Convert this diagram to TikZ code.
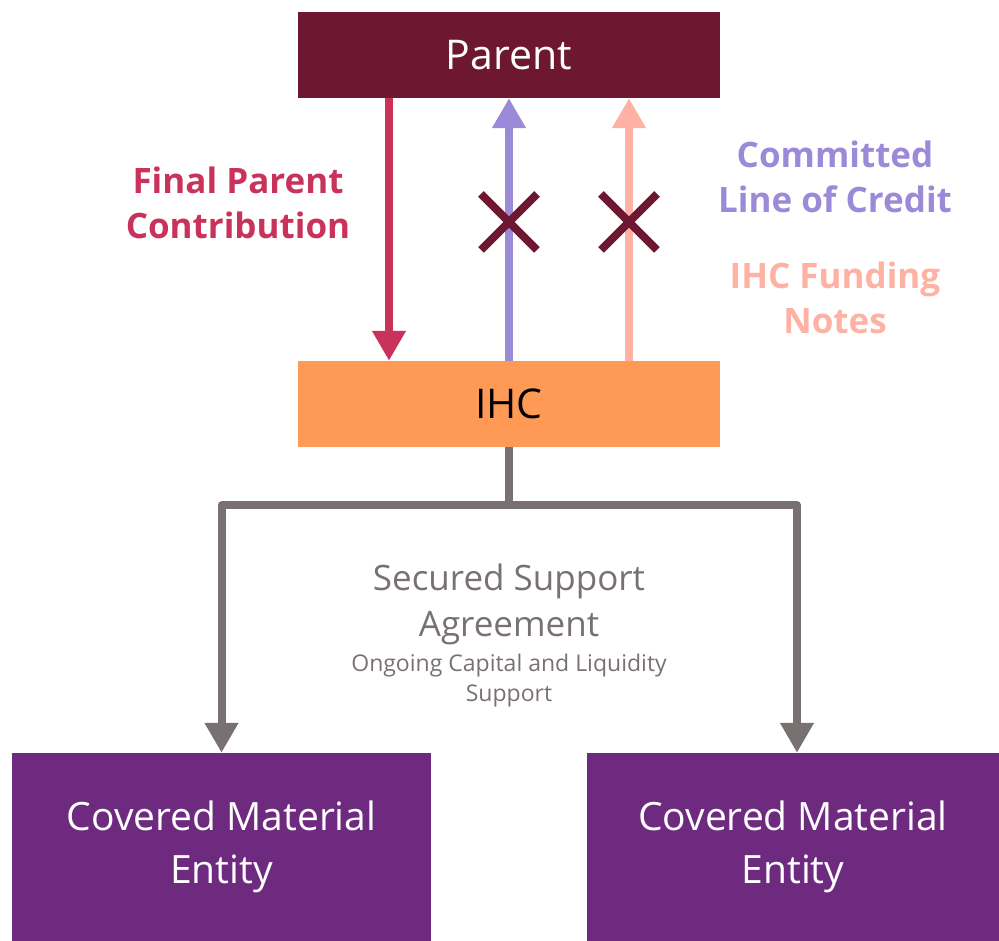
\documentclass[tikz,border=0pt]{standalone}
\usepackage{fontspec}
\setmainfont{Open Sans}
\usepackage{xcolor}
\usetikzlibrary{arrows.meta,shapes.misc}

\definecolor{parentred}{HTML}{6D1730}
\definecolor{ihcorange}{HTML}{FF9A56}
\definecolor{contribred}{HTML}{C9325A}
\definecolor{creditpurple}{HTML}{9B8AD8}
\definecolor{notespink}{HTML}{FFB1A3}
\definecolor{supportgray}{HTML}{797171}
\definecolor{cmepurple}{HTML}{6D2A7E}

\tikzset{
  box/.style={rectangle, inner sep=0pt, align=center},
  flow/.style={line width=8pt, -{Triangle[width=32pt,length=30pt]}},
  crossmark/.style={cross out, draw=parentred, line width=8pt, minimum size=48pt, inner sep=0pt},
  biglabel/.style={align=center, font=\fontsize{35}{45}\selectfont\bfseries}
}

\begin{document}
\begin{tikzpicture}[line cap=butt,line join=round,x=1pt,y=1pt]
\useasboundingbox (0,0) rectangle (999,941);

% boxes
\node[box, fill=parentred, text=white, minimum width=422pt, minimum height=86pt,
  font=\fontsize{41}{45}\selectfont] (parent) at (509,886) {Parent};
\node[box, fill=ihcorange, text=black, minimum width=422pt, minimum height=86pt,
  font=\fontsize{41}{45}\selectfont] (ihc) at (509,537) {IHC};
\node[box, fill=cmepurple, text=white, minimum width=419pt, minimum height=188pt,
  font=\fontsize{39}{53}\selectfont] (cme1) at (221.5,94) {Covered Material\\Entity};
\node[box, fill=cmepurple, text=white, minimum width=412pt, minimum height=188pt,
  font=\fontsize{39}{53}\selectfont] (cme2) at (793,94) {Covered Material\\Entity};

% parent / ihc flows
\draw[flow, contribred] ([xshift=-120pt]parent.south) -- ([xshift=-120pt]ihc.north);
\draw[flow, creditpurple] (ihc.north) -- (parent.south);
\draw[flow, notespink] ([xshift=120pt]ihc.north) -- ([xshift=120pt]parent.south);

\node[crossmark] (xcredit) at (509,719) {};
\node[crossmark] (xnotes) at (629,719) {};

\node[biglabel, text=contribred] (contrib) at (238,738) {Final Parent\\Contribution};
\node[biglabel, text=creditpurple] (credit) at (835,764) {Committed\\Line of Credit};
\node[biglabel, text=notespink] (notes) at (835,643) {IHC Funding\\Notes};

% support agreement
\draw[line width=8pt, supportgray] (ihc.south) -- ++(0,-58) coordinate (split);
\draw[flow, supportgray] (split) -| (cme1.north);
\draw[flow, supportgray] (split) -| ([xshift=4pt]cme2.north);

\node[align=center, text=supportgray, font=\fontsize{35}{46}\selectfont] (ssa) at (509,337)
  {Secured Support\\Agreement};
\node[align=center, text=supportgray, font=\fontsize{23}{30}\selectfont] (ongoing) at (509,260)
  {Ongoing Capital and Liquidity\\Support};
\end{tikzpicture}
\end{document}
